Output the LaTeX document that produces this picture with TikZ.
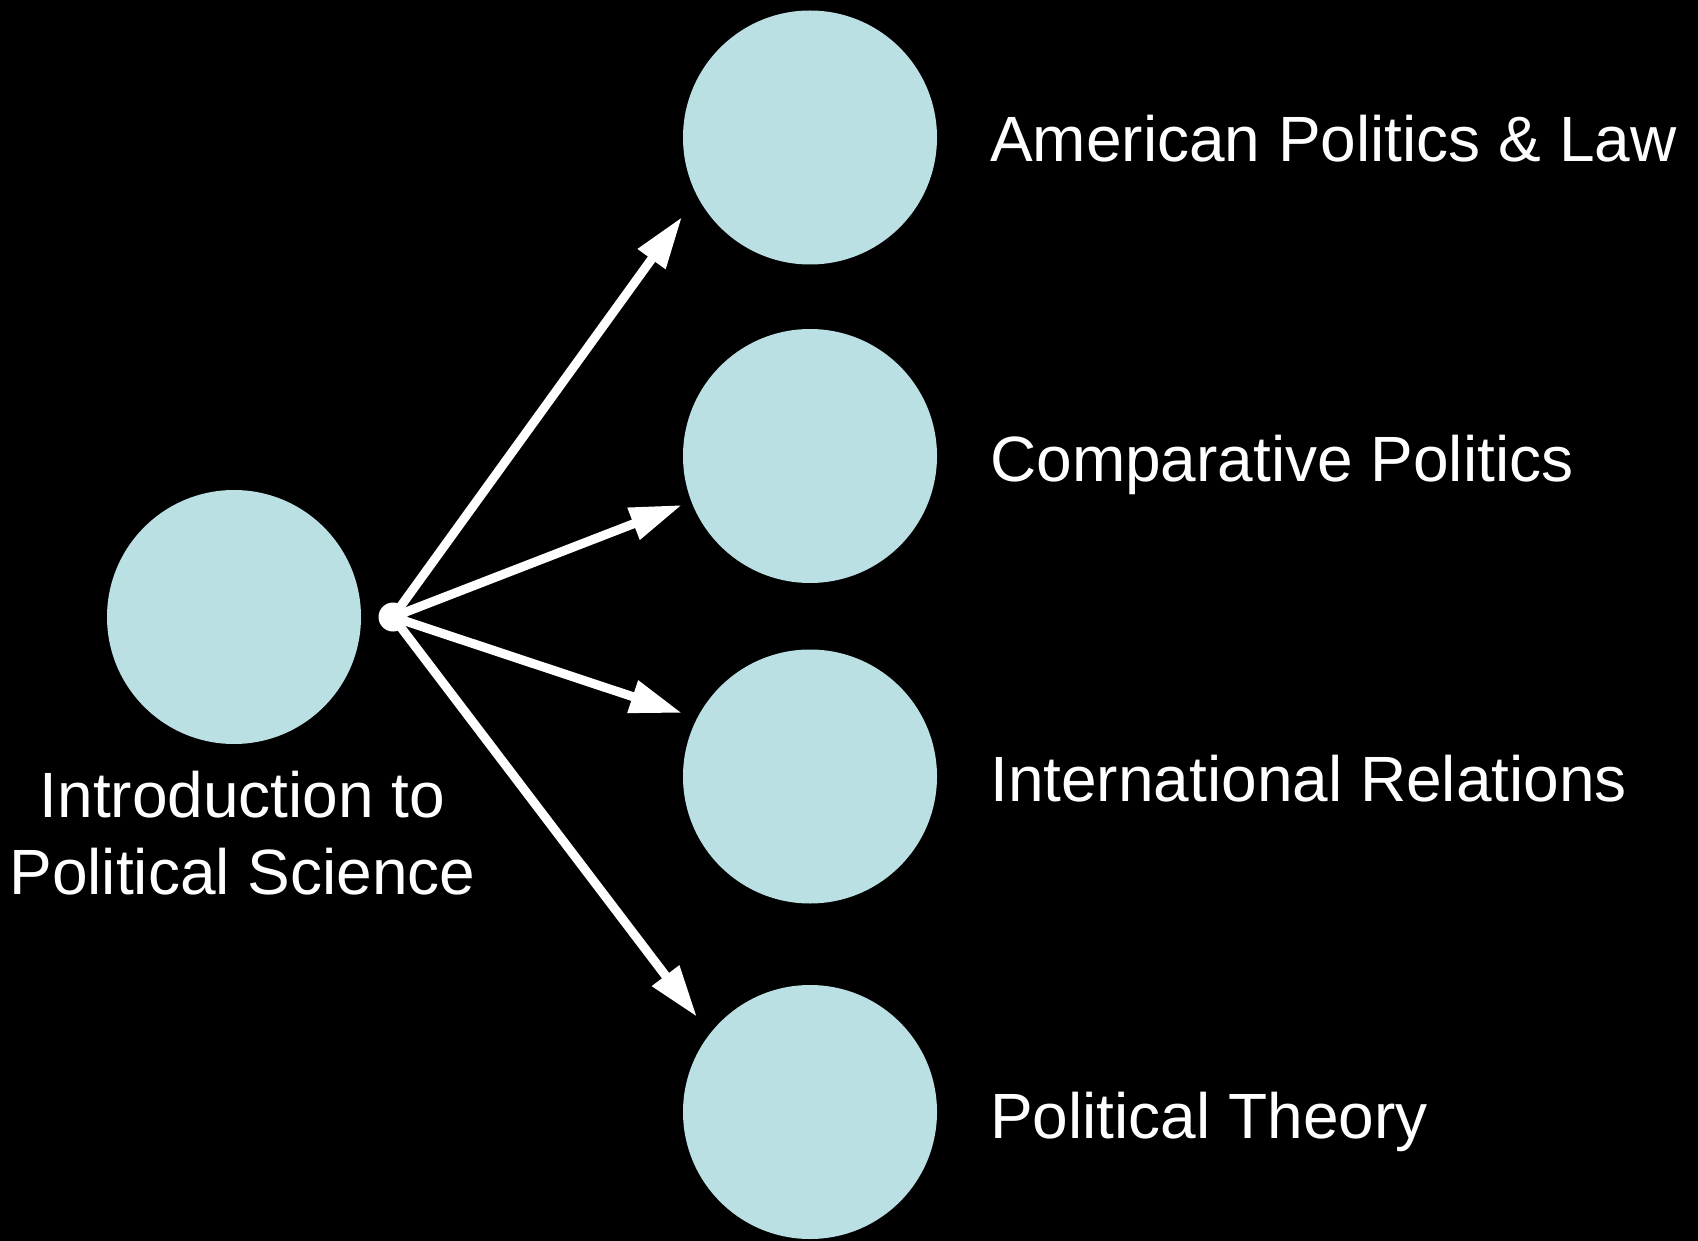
\documentclass[tikz,border=0pt]{standalone}
\usepackage{fontspec}
\setmainfont{Liberation Sans}
\usetikzlibrary{arrows.meta}
\definecolor{circfill}{RGB}{187,224,227}
\begin{document}
\begin{tikzpicture}[x=1pt,y=-1pt,
  topic/.style={circle,fill=circfill,draw=none,minimum size=254pt,inner sep=0pt},
  label/.style={text=white,font=\fontsize{64pt}{77pt}\selectfont,inner sep=0pt},
  conn/.style={draw=white,line width=9pt,-{Triangle[length=52pt,width=32pt]}}]
\useasboundingbox[fill=black] (0,0) rectangle (1698,1241);
\node[topic] (intro) at (234,617) {};
\node[topic] (apl) at (810,137.5) {};
\node[topic] (cp) at (810,456) {};
\node[topic] (ir) at (810,776.5) {};
\node[topic] (pt) at (810,1112) {};
\node[circle,fill=white,minimum size=29pt,inner sep=0pt] (hub) at (393,617) {};
\coordinate (t1) at (682,217);
\coordinate (t2) at (682,505);
\coordinate (t3) at (682,713);
\coordinate (t4) at (697,1017);
\draw[conn] (hub.center) -- (t1);
\draw[conn] (hub.center) -- (t2);
\draw[conn] (hub.center) -- (t3);
\draw[conn] (hub.center) -- (t4);
\node[label,anchor=base west] (lapl) at (990,162) {American Politics \& Law};
\node[label,anchor=base west] (lcp) at (990,481) {Comparative Politics};
\node[label,anchor=base west] (lir) at (990,801) {International Relations};
\node[label,anchor=base west] (lpt) at (990,1138) {Political Theory};
\node[label,align=center,anchor=base] (lintro) at (242.5,894) {Introduction to\\Political Science};
\end{tikzpicture}
\end{document}
